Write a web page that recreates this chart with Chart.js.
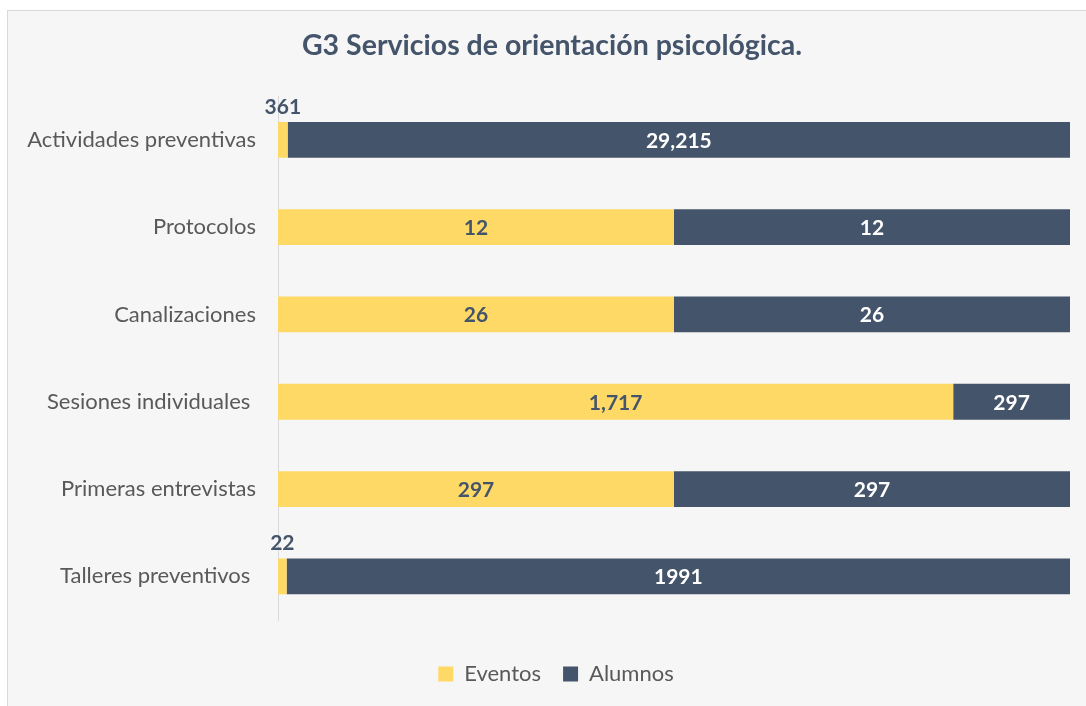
<!DOCTYPE html>
<html lang="es">
<head>
<meta charset="UTF-8" />
<title>G3 Servicios de orientación psicológica</title>
<script src="https://cdn.jsdelivr.net/npm/chart.js@4.4.1/dist/chart.umd.min.js"></script>
<style>
  body { margin: 0; background: #fff; }
  .frame {
    position: absolute; left: 7px; top: 10px; width: 1090px; height: 705px;
    border: 1px solid #d9d9d9; background: #f6f6f6;
  }
  #chart { position: absolute; left: 0; top: 0; }
</style>
<script>
// datos de la gráfica
const categories = ['Actividades preventivas', 'Protocolos', 'Canalizaciones', 'Sesiones individuales ', 'Primeras entrevistas', 'Talleres preventivos '];
const eventos = [361, 12, 26, 1717, 297, 22];
const alumnos = [29215, 12, 26, 297, 297, 1991];
const eventosText = ['361', '12', '26', '1,717', '297', '22'];
const alumnosText = ['29,215', '12', '26', '297', '297', '1991'];
</script>
</head>
<body>
<div class="frame"></div>
<canvas id="chart" width="1086" height="706"></canvas>
<script>
const FONT = 'Lato, "Open Sans", sans-serif';
const totals = eventos.map((v, i) => v + alumnos[i]);
const pct = arr => arr.map((v, i) => v / totals[i] * 100);

// etiquetas dentro de las barras
const labelPlugin = {
  id: 'barLabels',
  afterLayout(chart) {
    // mover título y leyenda un poco a la derecha
    chart.titleBlock.left += 17;
    chart.titleBlock.right += 17;
    chart.legend.left += 21;
    chart.legend.right += 21;
  },
  afterDatasetsDraw(chart) {
    const ctx = chart.ctx;
    const texts = [eventosText, alumnosText];
    ctx.save();
    ctx.font = 'bold 21px ' + FONT;
    ctx.textAlign = 'center';
    ctx.textBaseline = 'middle';
    chart.data.datasets.forEach((ds, di) => {
      const meta = chart.getDatasetMeta(di);
      meta.data.forEach((bar, i) => {
        const w = bar.x - bar.base;
        const cx = (bar.x + bar.base) / 2;
        if (w < 30) {
          ctx.fillStyle = '#44546a';
          ctx.fillText(texts[di][i], cx, bar.y - bar.height / 2 - 15);
        } else {
          ctx.fillStyle = di === 0 ? '#44546a' : '#ffffff';
          ctx.fillText(texts[di][i], cx, bar.y + 1);
        }
      });
    });
    ctx.restore();
  }
};

new Chart(document.getElementById('chart'), {
  type: 'bar',
  data: {
    labels: categories,
    datasets: [
      { label: 'Eventos', data: pct(eventos), backgroundColor: '#ffd966' },
      { label: 'Alumnos', data: pct(alumnos), backgroundColor: '#44546a' }
    ]
  },
  options: {
    indexAxis: 'y',
    responsive: false,
    animation: false,
    layout: { padding: { left: 0, right: 16, top: 0, bottom: 11 } },
    barPercentage: 0.41,
    categoryPercentage: 1,
    scales: {
      x: {
        stacked: true, min: 0, max: 100,
        ticks: { display: false },
        grid: { display: false, drawTicks: false },
        border: { display: false },
        afterFit(scale) { scale.height = 21; }
      },
      y: {
        stacked: true,
        grid: { display: false, drawTicks: false },
        border: { display: true, color: '#d9d9d9', width: 1 },
        ticks: { color: '#595959', font: { family: FONT, size: 22 }, padding: 22 },
        afterFit(scale) { scale.width = 278; }
      }
    },
    plugins: {
      title: {
        display: true,
        text: 'G3 Servicios de orientación psicológica.',
        color: '#44546a',
        font: { family: FONT, size: 28.5, weight: 'bold' },
        padding: { top: 29, bottom: 33 }
      },
      legend: {
        position: 'bottom',
        labels: { color: '#595959', font: { family: FONT, size: 22 }, boxWidth: 15, boxHeight: 15, padding: 22 }
      },
      tooltip: { enabled: false }
    }
  },
  plugins: [labelPlugin]
});
</script>
</body>
</html>
